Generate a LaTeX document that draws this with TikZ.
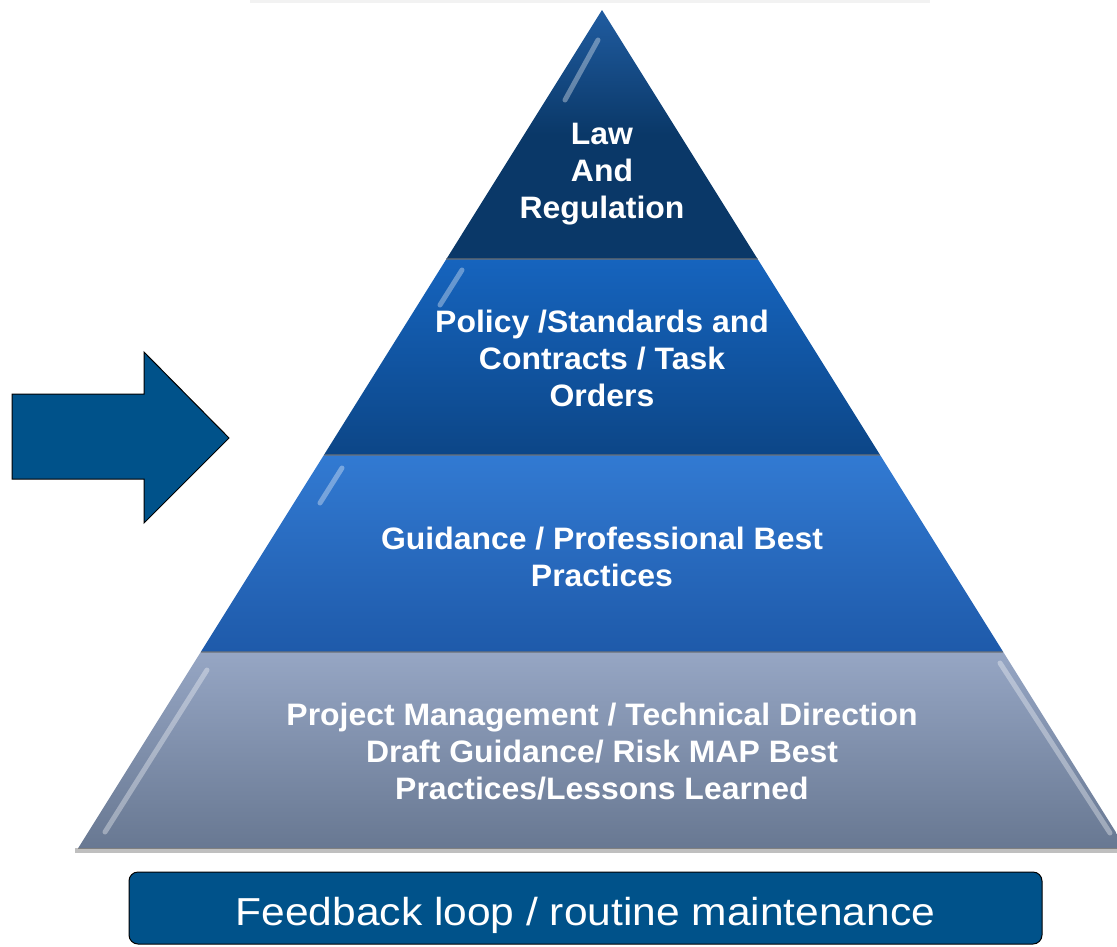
\documentclass[tikz,border=0pt]{standalone}
\usepackage{fontspec}
\setmainfont{Liberation Sans}
\newfontfamily\layerfont[FakeStretch=1.03]{Liberation Sans}
\newfontfamily\feedfont[FakeStretch=1.09]{Liberation Sans}
\usetikzlibrary{positioning}

\definecolor{navytop}{RGB}{32,92,160}
\definecolor{navybot}{RGB}{10,56,104}
\definecolor{policytop}{RGB}{22,100,190}
\definecolor{policybot}{RGB}{12,70,135}
\definecolor{guidetop}{RGB}{50,122,210}
\definecolor{guidebot}{RGB}{30,90,170}
\definecolor{projtop}{RGB}{150,166,196}
\definecolor{projbot}{RGB}{104,120,146}
\definecolor{arrowblue}{RGB}{0,82,138}

\tikzset{
  layertext/.style={text=white, font=\layerfont\fontsize{31}{37}\selectfont\bfseries, align=center},
  bevel/.style={line width=5pt, line cap=round, white, opacity=0.35},
  seam/.style={line width=1.2pt, black!55, opacity=0.6}
}

\begin{document}
\begin{tikzpicture}[x=1pt,y=-1pt]
    \useasboundingbox (0,0) rectangle (1117,946);

    % faint shadow of the box above
    \fill[black!5] (250,0) rectangle (930,3);

    % Draw the four layers of the pyramid
    \fill[black!25] (75,848) -- (1125,848) -- (1125,853) -- (75,853) -- cycle;
    \shade[top color=projtop, bottom color=projbot] (200.75,652) -- (1003.25,652) -- (1125.75,848) -- (78.25,848) -- cycle;
    \shade[top color=guidetop, bottom color=guidebot] (323.9,455) -- (880.1,455) -- (1003.25,652) -- (200.75,652) -- cycle;
    \shade[top color=policytop, bottom color=policybot] (446.4,259) -- (757.6,259) -- (880.1,455) -- (323.9,455) -- cycle;
    \shade[top color=navytop, bottom color=navybot, middle color=navybot] (602,10) -- (757.6,259) -- (446.4,259) -- cycle;

    % bevel highlights along the slanted edges
    \draw[bevel] (598,40) -- (565,100);
    \draw[bevel] (462,270) -- (440,305);
    \draw[bevel] (342,468) -- (320,503);
    \draw[bevel] (207,670) -- (105,832);
    \draw[bevel] (1000,663) -- (1110,833);

    % seams between the layers
    \draw[seam] (446.4,259) -- (757.6,259);
    \draw[seam] (323.9,455) -- (880.1,455);
    \draw[seam] (200.75,652) -- (1003.25,652);
    \draw[line width=1pt, black!50] (78.25,848) -- (1125.75,848);

    % Labels of the layers
    \node[layertext] (law) at (602,174) {Law\\And\\Regulation};
    \node[layertext] (policy) at (602,358) {Policy /Standards and\\Contracts / Task\\Orders};
    \node[layertext] (guidance) at (602,557) {Guidance / Professional Best\\Practices};
    \node[layertext] (project) at (602,752) {Project Management / Technical Direction\\Draft Guidance/ Risk MAP Best\\Practices/Lessons Learned};

    % Arrow pointing at the policy layer
    \draw[fill=arrowblue, line width=1pt] (12,394) -- (144,394) -- (144,352) -- (229,438)
        -- (144,523) -- (144,479) -- (12,479) -- cycle;

    % Feedback box at the bottom
    \node[draw=black, line width=1pt, fill=arrowblue, rounded corners=9pt,
          minimum width=913pt, minimum height=72pt] (feedback) at (585.5,908) {};
    \node[anchor=base, text=white, font=\feedfont\fontsize{39}{39}\selectfont]
        (feedtext) at (585.5,925) {Feedback loop / routine maintenance};
\end{tikzpicture}
\end{document}
